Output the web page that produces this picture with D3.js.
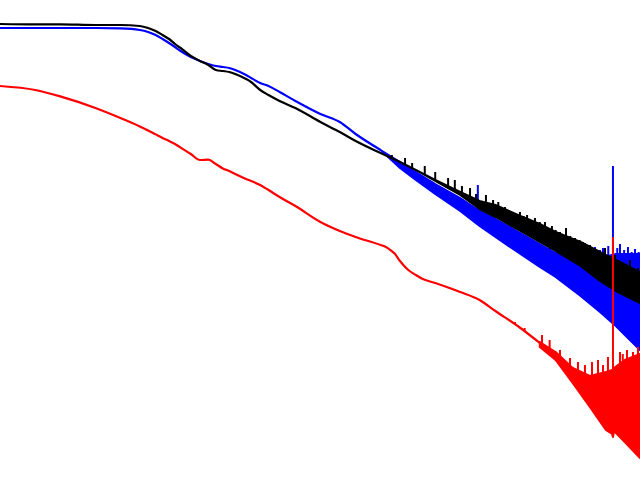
<!DOCTYPE html>
<html>
<head>
<meta charset="utf-8">
<script src="https://cdn.jsdelivr.net/npm/d3@7.9.0/dist/d3.min.js"></script>
<style>
  html, body { margin: 0; padding: 0; background: #fff; }
  svg { display: block; }
</style>
</head>
<body>
<svg id="chart" width="640" height="480"></svg>
<script>
// Power spectra, frequency (Hz, log) vs level (dB)

// smooth low-frequency part of each curve
const lowFreq = [1, 1.5, 2, 3, 4, 5, 5.5, 6, 6.5, 7, 7.5, 8, 9, 10, 11, 12, 13, 14, 15, 17, 18, 20, 22, 25, 30, 40, 50, 60, 80, 100];
const blackLow = [-6, -6.1, -6.1, -6.25, -6.25, -6.5, -7, -7.75, -8.75, -9.75, -11, -12, -14, -15.25, -16.25, -17.5, -17.75, -18, -18.5, -19.75, -20.5, -22.5, -23.75, -25.25, -27, -30.5, -33, -35.25, -38.25, -40.5];
const blueLow = [-7, -7, -7, -7, -7.1, -7.5, -8, -8.75, -9.75, -10.75, -11.75, -12.75, -14.25, -15.25, -16, -16.5, -16.75, -17, -17.5, -18.75, -19.5, -20.75, -21.5, -23, -25.25, -28.5, -30.5, -33.5, -37.5, -40.75];
const redLow = [-21.5, -22.5, -24.1, -27, -29.5, -31.6, -32.6, -33.6, -34.5, -35.25, -36, -36.9, -38.5, -40, -39.9, -41, -42.1, -42.75, -43.5, -44.75, -45.25, -46.25, -47.5, -49.25, -51.5, -55.5, -57.75, -59.25, -61.25, -65.25];

// red keeps a clean line a bit further
const redMidFreq = [100, 105, 110, 120, 130, 150, 200, 250, 300, 400, 500];
const redMid = [-65.25, -66.5, -67.5, -68.75, -69.75, -70.75, -73, -75, -77.75, -82, -85.75];
// red is drawn up to 80 Hz with these in between
const redBendFreq = [85, 90, 94];
const redBend = [-61.75, -62.6, -63.4];

// noisy high-frequency bands: floor and top of the dense part
const blueBandFreq = [80, 100, 120, 150, 200, 250, 300, 400, 500, 600, 800, 1000, 1200, 1585];
const blueFloor = [-37.5, -42, -45, -48.5, -52.75, -56.5, -59.25, -63.5, -66.75, -69.25, -74, -78, -81.5, -87.5];
const blueTop = [-37.5, -40.5, -43, -46, -49.5, -52.75, -54.75, -58.25, -61, -63.25, -65.5, -64.5, -63.5, -63.5];

const blackBandFreq = [100, 120, 150, 200, 250, 300, 400, 500, 600, 800, 1000, 1200, 1585];
const blackFloor = [-40.5, -42.5, -45.25, -48.75, -52.25, -54.25, -57.75, -60.5, -62.75, -66.5, -70.25, -72.75, -75.75];
const blackTop = [-40.5, -42.5, -45, -48, -50.25, -51.25, -54, -56, -58, -60.5, -63, -65, -68];

const redBandFreq = [500, 600, 730, 890, 1070, 1150, 1161, 1175, 1330, 1585];
const redFloor = [-86.75, -90, -95.75, -101.75, -107.5, -108.5, -109.25, -107.75, -110.5, -114.5];
const redTop = [-85.5, -88, -92, -94, -93, -92.5, -92.5, -92, -90, -88.5];

// individual peaks sticking out of the bands [freq, dB]
const blueSpikes = [[141, -45], [155, -46.5], [188, -48.75], [245, -46.25], [560, -59], [631, -59.25], [740, -60.5], [841, -60.75], [900, -62], [944, -61.75], [1000, -62.5], [1035, -62], [1100, -61.5], [1161, -41.5], [1220, -62], [1259, -61], [1320, -62.5], [1380, -61.75], [1440, -63], [1496, -62.25], [1560, -63]];
const blackSpikes = [[91, -38.75], [106, -39.5], [115, -40.75], [133, -41.5], [150, -43], [174, -44.5], [188, -45], [204, -46.5], [224, -47], [240, -48.5], [269, -48.75], [292, -50], [310, -50.5], [335, -51.75], [350, -52.5], [367, -53], [398, -53], [415, -54], [432, -53.75], [450, -55], [473, -54.5], [500, -55.5], [531, -55.5], [555, -57], [575, -56.5], [600, -57.5], [631, -58], [676, -57], [710, -59], [750, -59.5], [790, -60], [822, -60.5], [860, -62], [891, -61.25], [930, -62.5], [966, -62.5], [1010, -63], [1059, -62], [1120, -64], [1189, -63.75], [1240, -65], [1288, -65.5], [1350, -66], [1413, -65], [1480, -67], [1549, -67]];
const redSpikes = [[376, -80.5], [420, -82], [513, -83.75], [560, -85], [631, -87.5], [708, -89.5], [776, -90.5], [841, -91.25], [912, -90.5], [977, -90], [1035, -91.25], [1096, -89.25], [1161, -59.25], [1259, -88], [1300, -88.5], [1365, -87.5], [1462, -88], [1549, -86.75]];

const width = 640, height = 480;
const svg = d3.select('#chart');

const x = d3.scaleLog().domain([1, 1585]).range([0, width]);
const y = d3.scaleLinear().domain([0, -120]).range([0, height]);

const line = d3.line().x(d => x(d[0])).y(d => y(d[1])).curve(d3.curveMonotoneX);
const area = d3.area().x(d => x(d[0])).y0(d => y(d[1])).y1(d => y(d[2]));

function drawSeries(color, lowF, lowV, bandF, floor, top, spikes) {
  const g = svg.append('g');
  g.append('path')
    .datum(bandF.map((f, i) => [f, floor[i], top[i]]))
    .attr('d', area)
    .attr('fill', color)
    .attr('stroke', color)
    .attr('stroke-width', 2)
    .attr('stroke-linejoin', 'round');

  g.append('path')
    .datum(lowF.map((f, i) => [f, lowV[i]]))
    .attr('d', line)
    .attr('fill', 'none')
    .attr('stroke', color)
    .attr('stroke-width', 2.2)
    .attr('stroke-linejoin', 'round');

  // spikes run down from the peak into the curve below them
  const floorAt = d3.scaleLog().domain(bandF).range(floor).clamp(true);
  const lowAt = d3.scaleLog().domain(lowF).range(lowV).clamp(true);
  spikes.forEach(([f, v]) => {
    const base = f < bandF[0] ? lowAt(f) : floorAt(f);
    g.append('line')
      .attr('x1', x(f)).attr('x2', x(f))
      .attr('y1', y(v)).attr('y2', y(base))
      .attr('stroke', color)
      .attr('stroke-width', 2);
  });
}

const redF = lowFreq.slice(0, 29).concat(redBendFreq, redMidFreq);
const redV = redLow.slice(0, 29).concat(redBend, redMid);

drawSeries('#0000ff', lowFreq.slice(0, 29), blueLow.slice(0, 29), blueBandFreq, blueFloor, blueTop, blueSpikes);
drawSeries('#000000', lowFreq, blackLow, blackBandFreq, blackFloor, blackTop, blackSpikes);
drawSeries('#ff0000', redF, redV, redBandFreq, redFloor, redTop, redSpikes);
</script>
</body>
</html>
